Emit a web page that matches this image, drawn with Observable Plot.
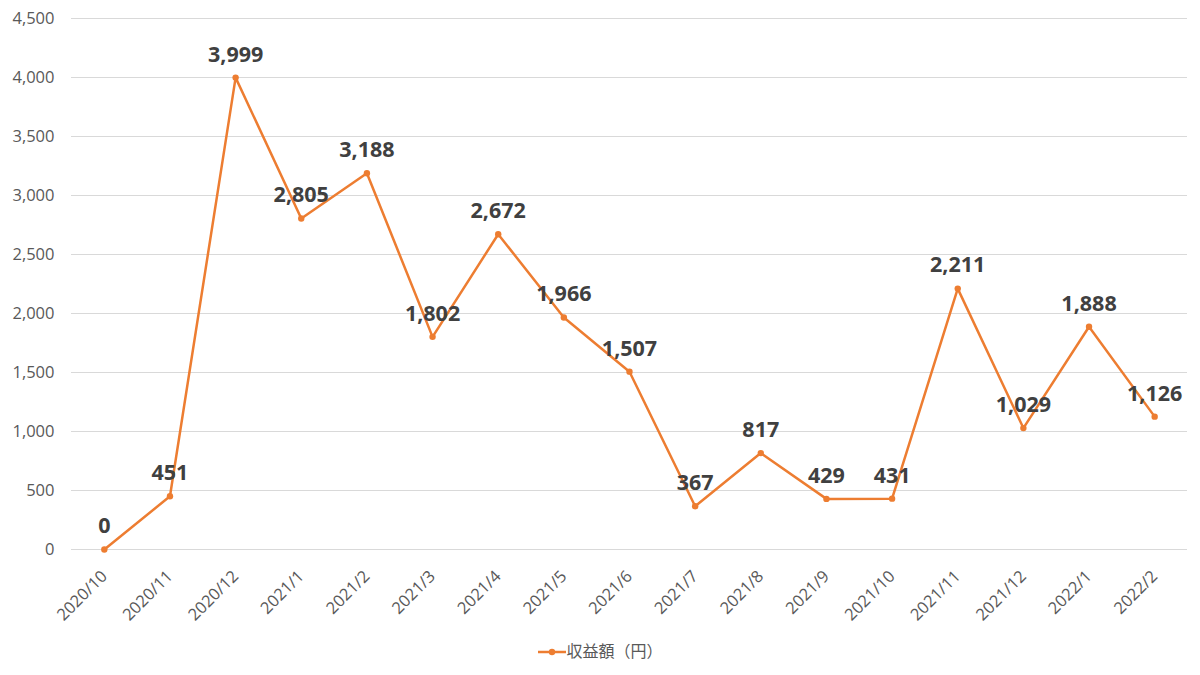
<!DOCTYPE html>
<html>
<head>
<meta charset="utf-8">
<script src="https://cdn.jsdelivr.net/npm/d3@7"></script>
<script src="https://cdn.jsdelivr.net/npm/@observablehq/plot@0.6"></script>
<style>
  html, body { margin: 0; padding: 0; background: #fff; }
  #chart { width: 1200px; height: 675px; position: relative; }
  #legend { position: absolute; left: 0; right: 0; top: 640px; text-align: center;
    font-family: "Noto Sans CJK JP", "Noto Sans", sans-serif; font-size: 16px; color: #595959; line-height: 20px; }
  #legend svg { vertical-align: middle; margin-right: 0px; position: relative; top: -1px; }
</style>
</head>
<body>
<div id="chart"><div id="legend"></div></div>
<script>
const months = ["2020/10","2020/11","2020/12","2021/1","2021/2","2021/3","2021/4","2021/5","2021/6","2021/7","2021/8","2021/9","2021/10","2021/11","2021/12","2022/1","2022/2"];
const values = [0,451,3999,2805,3188,1802,2672,1966,1507,367,817,429,431,2211,1029,1888,1126];
const yTicks = [0,500,1000,1500,2000,2500,3000,3500,4000,4500];
const seriesName = "収益額（円）";
const color = "#ED7D31";

const data = months.map((m, i) => ({month: m, value: values[i]}));

const chart = Plot.plot({
  width: 1200,
  height: 632,
  marginLeft: 71,
  marginRight: 13,
  marginTop: 18,
  marginBottom: 83,
  style: {fontFamily: "'Open Sans', 'Noto Sans', sans-serif", fontSize: "16px", color: "#595959", background: "#fff"},
  x: {type: "point", domain: months, padding: 0.5, round: false},
  y: {domain: [0, 4500]},
  marks: [
    Plot.gridY(yTicks, {stroke: "#d9d9d9", strokeOpacity: 1, strokeWidth: 1}),
    Plot.axisY(yTicks, {tickSize: 0, tickPadding: 17, tickFormat: d3.format(","), fill: "#595959", fontSize: 16.5, label: null}),
    Plot.axisX({tickSize: 0, tickPadding: 24, tickRotate: -45, fill: "#595959", fontSize: 16.5, label: null}),
    Plot.line(data, {x: "month", y: "value", stroke: color, strokeWidth: 2.5}),
    Plot.dot(data, {x: "month", y: "value", fill: color, r: 3.2}),
    Plot.text(data, {x: "month", y: "value", text: d => d3.format(",")(d.value), dy: -23,
      fill: "#404040", fontWeight: "bold", fontSize: 21.5})
  ]
});
document.getElementById("chart").prepend(chart);

document.getElementById("legend").innerHTML =
  `<svg width="29" height="12"><line x1="1" x2="29" y1="6" y2="6" stroke="${color}" stroke-width="2.5"/><circle cx="15" cy="6" r="3.2" fill="${color}"/></svg>${seriesName}`;
</script>
</body>
</html>
